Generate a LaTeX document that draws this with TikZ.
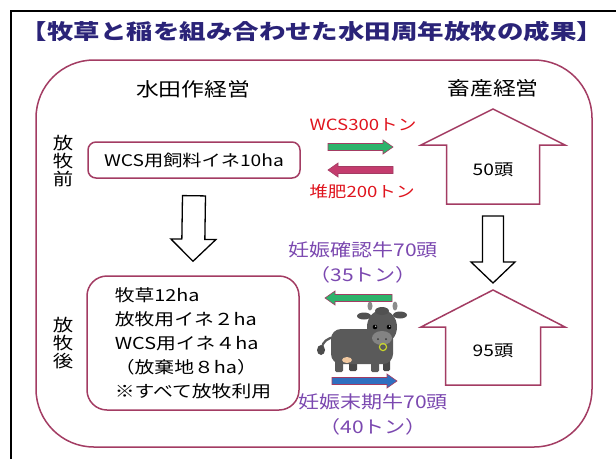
\documentclass[tikz,border=0pt]{standalone}
\usepackage{fontspec}
\newfontfamily\jp[FakeStretch=1.2]{Noto Sans CJK JP}
\newfontfamily\jpwide[FakeStretch=1.26]{Noto Sans CJK JP}
\usetikzlibrary{calc}
\definecolor{cframe}{HTML}{A33C63}
\definecolor{ctitle}{HTML}{2A2378}
\definecolor{cred}{HTML}{E0141E}
\definecolor{cviolet}{HTML}{7B48B0}
\definecolor{cgreen}{HTML}{2DB36B}
\definecolor{cpink}{HTML}{C43C6E}
\definecolor{cblue}{HTML}{2F6FC0}
\definecolor{ccow}{HTML}{5A5A5A}
\definecolor{cudder}{HTML}{F0C8A0}
\definecolor{cring}{HTML}{C9D62B}
% block arrow: style, tail, tip, shaft half width, head half width, head length
\newcommand\blockarrow[6]{%
  \path ($(#3)!#6!(#2)$) coordinate (ba-h);
  \draw[#1] ($(#2)!#4!-90:(#3)$) -- ($(ba-h)!#4!-90:(#3)$) -- ($(ba-h)!#5!-90:(#3)$) -- (#3)
    -- ($(ba-h)!#5!90:(#3)$) -- ($(ba-h)!#4!90:(#3)$) -- ($(#2)!#4!90:(#3)$) -- cycle;
}
\tikzset{
  every picture/.style={line width=1.2pt},
  title/.style={font=\jpwide\bfseries\fontsize{21}{24}\selectfont, text=ctitle},
  head/.style={font=\jp\fontsize{19}{22}\selectfont},
  phase/.style={font=\jp\fontsize{17}{18}\selectfont, align=center},
  field/.style={draw=cframe, line width=1.5pt, fill=white, align=left, inner sep=0pt},
  herd/.style={font=\jp\fontsize{16}{18}\selectfont},
  tons/.style={font=\jp\fontsize{15.5}{18}\selectfont, text=cred},
  cattle/.style={font=\jp\fontsize{17.5}{25}\selectfont, text=cviolet, align=center},
  house/.style={draw=cframe, line width=1.5pt, fill=white},
  step down/.style={draw=black, line width=1.3pt, fill=white},
  flow/.style={draw=cframe, line width=0.6pt, fill=#1},
}

\begin{document}
\begin{tikzpicture}[x=1pt, y=-1pt]
  \useasboundingbox (0,0) rectangle (616,459);
  \fill[white] (0,0) rectangle (616,459);
  \draw[line width=2pt] (11,459) -- (11,11) -- (616,11);
  \node[title] (title) at (312,31) {【牧草と稲を組み合わせた水田周年放牧の成果】};
  \draw[cframe, line width=1.5pt, rounded corners=58pt] (36,60) rectangle (592,447);

  % paddy side
  \node[head] (paddy) at (193,89) {水田作経営};
  \node[phase] (pre) at (63,161) {放\\牧\\前};
  \node[phase] (post) at (63,343) {放\\牧\\後};
  \node[field, rounded corners=8pt, minimum width=212pt, minimum height=36pt,
        font=\jp\fontsize{16}{18}\selectfont] (before) at (194,160) {WCS用飼料イネ10ha};
  \node[field, rounded corners=20pt, minimum width=212pt, minimum height=134pt,
        font=\jp\fontsize{16.5}{24}\selectfont] (after) at (193,343)
    {牧草12ha\\放牧用イネ２ha\\WCS用イネ４ha\\（放棄地８ha）\\※すべて放牧利用};
  \coordinate (d1) at ($(before.south)+(0,17)$);
  \coordinate (d2) at ($(after.north)+(0,-14)$);
  \blockarrow{step down}{d1}{d2}{11.5pt}{22.5pt}{22pt}

  % livestock side
  \node[head] (barn) at (493,88) {畜産経営};
  \coordinate (h1top) at (493,109);
  \coordinate (h1base) at (493,204);
  \coordinate (h2top) at (493,290);
  \coordinate (h2base) at (493,385);
  \blockarrow{house}{h1base}{h1top}{46.5pt}{72pt}{36pt}
  \blockarrow{house}{h2base}{h2top}{47.5pt}{72pt}{37pt}
  \node[herd] (herd1) at (493,170) {50頭};
  \node[herd] (herd2) at (493,351) {95頭};
  \coordinate (d3) at ($(h1base)+(0,12)$);
  \coordinate (d4) at ($(h2top)+(0,-7)$);
  \blockarrow{step down}{d3}{d4}{10.5pt}{22pt}{21pt}

  % exchange between the two
  \node[tons] (wcs) at (363,125) {WCS300トン};
  \node[tons] (compost) at (362,192) {堆肥200トン};
  \coordinate (f1) at (328,147); \coordinate (f2) at (393,147);
  \coordinate (f3) at (393,170); \coordinate (f4) at (328,170);
  \blockarrow{flow=cgreen}{f1}{f2}{3.5pt}{7pt}{10pt}
  \blockarrow{flow=cpink}{f3}{f4}{3.5pt}{7pt}{10pt}
  \node[cattle] (early) at (363,262) {妊娠確認牛70頭\\（35トン）};
  \node[cattle] (late) at (373,414) {妊娠末期牛70頭\\（40トン）};
  \coordinate (f5) at (392,298); \coordinate (f6) at (325,298);
  \coordinate (f7) at (332,381); \coordinate (f8) at (397,381);
  \blockarrow{flow=cgreen}{f5}{f6}{3.5pt}{7pt}{10pt}
  \blockarrow{flow=cblue}{f7}{f8}{3.5pt}{7pt}{10pt}

  % cow
  \draw[ccow, line width=2.2pt, line cap=round] (335,337) .. controls (327,338) and (323,342) .. (322,347);
  \fill[ccow!85!black] (321,350) ellipse (4pt and 5pt);
  \fill[ccow!80!black, rounded corners=1.5pt] (349,352) rectangle (357,371);
  \fill[ccow!80!black, rounded corners=1.5pt] (383,352) rectangle (390,371);
  \fill[ccow, rounded corners=10pt] (331,329) rectangle (393,364);
  \fill[ccow, rounded corners=1.5pt] (335,352) rectangle (343,372);
  \fill[ccow, rounded corners=1.5pt] (371,352) rectangle (379,372);
  \fill[cudder] (347,360) ellipse (5pt and 3pt);
  \fill[ccow!90!black] (364,316) ellipse (7pt and 3.5pt);
  \fill[ccow!90!black] (400,315) ellipse (7pt and 3.5pt);
  \fill[ccow!70!white] (370,306) ellipse (2.5pt and 4.5pt);
  \fill[ccow!70!white] (395,306) ellipse (2.5pt and 4.5pt);
  \fill[ccow] (382,327) ellipse (15pt and 17pt);
  \fill[ccow!90!black] (382,311) ellipse (7pt and 4pt);
  \fill[ccow!75!white] (382,338) ellipse (10pt and 7pt);
  \fill[black] (375,327) circle (2.3pt) (389,327) circle (2.3pt);
  \fill[white] (375.7,326.2) circle (0.7pt) (389.7,326.2) circle (0.7pt);
  \fill[ccow!60!black] (378,339) circle (1pt) (386,339) circle (1pt);
  \draw[cring, line width=1.2pt] (383,347) circle (3.6pt);
\end{tikzpicture}
\end{document}
